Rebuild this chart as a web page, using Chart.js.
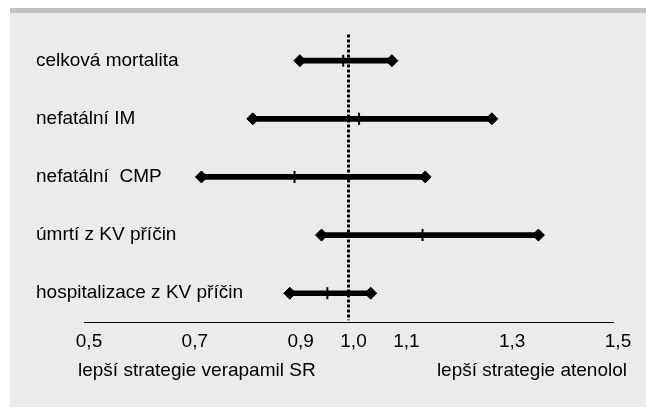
<!DOCTYPE html>
<html><head><meta charset="utf-8">
<script src="https://cdn.jsdelivr.net/npm/chart.js@4/dist/chart.umd.min.js"></script>
<style>
html,body{margin:0;padding:0;background:#fff;}
#panel{position:absolute;left:10px;top:8px;width:636px;height:399px;background:#ebebeb;border-top:5px solid #c2c2c2;box-sizing:border-box;}
#wrap{position:absolute;left:0;top:0;width:646px;height:407px;}
</style></head><body>
<div id="panel"></div>
<div id="wrap"><canvas id="c"></canvas></div>
<script>
const categories = ['celková mortalita', 'nefatální IM', 'nefatální  CMP', 'úmrtí z KV příčin', 'hospitalizace z KV příčin'];
const lowerCI = [0.908, 0.819, 0.722, 0.949, 0.889];
const upperCI = [1.082, 1.271, 1.145, 1.359, 1.042];
const estimates = [0.990, 1.020, 0.898, 1.140, 0.960];
const tickValues = [0.5, 0.7, 0.9, 1.0, 1.1, 1.3, 1.5];
const tickLabels = ['0,5', '0,7', '0,9', '1,0', '1,1', '1,3', '1,5'];
const referenceValue = 1.0;
const leftCaption = 'lepší strategie verapamil SR';
const rightCaption = 'lepší strategie atenolol';

function hasFont(name) {
  const c = document.createElement('canvas').getContext('2d');
  const s = '0,5 1,3 mmwwii';
  c.font = '40px monospace';
  const a = c.measureText(s).width;
  c.font = '40px "' + name + '", monospace';
  return Math.abs(c.measureText(s).width - a) > 0.5;
}
const narrow = hasFont('Liberation Sans Narrow');
const tickFont = narrow ? {family: '"Liberation Sans Narrow", "Liberation Sans", Arial', size: 21}
                        : {family: '"Liberation Sans", Arial', size: 19};
const tickPad = narrow ? 7 : 8;
const baseFamily = '"Liberation Sans", Arial, sans-serif';

const refPlugin = {
  id: 'refline',
  afterDatasetsDraw(chart) {
    const {ctx, chartArea, scales} = chart;
    const x = scales.x.getPixelForValue(referenceValue);
    ctx.save();
    ctx.strokeStyle = '#000';
    ctx.lineWidth = 3;
    ctx.setLineDash([3, 2]);
    ctx.beginPath();
    ctx.moveTo(x, chartArea.top + 3);
    ctx.lineTo(x, chartArea.bottom - 2);
    ctx.stroke();
    ctx.restore();
  },
  afterDraw(chart) {
    const {ctx, chartArea} = chart;
    ctx.save();
    ctx.fillStyle = '#000';
    ctx.font = '19px ' + baseFamily;
    ctx.textBaseline = 'alphabetic';
    ctx.textAlign = 'left';
    ctx.fillText(leftCaption, chartArea.left - 6, 376);
    ctx.textAlign = 'right';
    ctx.fillText(rightCaption, chartArea.right + 14, 376);
    ctx.restore();
  }
};

const endpoints = [];
categories.forEach((c, i) => {
  endpoints.push({x: lowerCI[i], y: c});
  endpoints.push({x: upperCI[i], y: c});
});
const estPoints = categories.map((c, i) => ({x: estimates[i], y: c}));

new Chart(document.getElementById('c'), {
  type: 'bar',
  data: {
    labels: categories,
    datasets: [
      {
        type: 'scatter',
        data: endpoints,
        pointStyle: 'rectRot',
        pointRadius: 6,
        pointBorderWidth: 1,
        pointBackgroundColor: '#000',
        pointBorderColor: '#000'
      },
      {
        type: 'scatter',
        data: estPoints,
        pointStyle: 'line',
        pointRotation: 90,
        pointRadius: 6,
        pointBorderWidth: 2,
        pointBorderColor: '#000',
        pointBackgroundColor: '#000'
      },
      {
        type: 'bar',
        data: categories.map((c, i) => [lowerCI[i], upperCI[i]]),
        backgroundColor: '#000',
        barThickness: 5,
        borderWidth: 0
      }
    ]
  },
  options: {
    indexAxis: 'y',
    responsive: true,
    maintainAspectRatio: false,
    animation: false,
    events: [],
    layout: {padding: {left: 36, right: 33, top: 31.6, bottom: 0}},
    plugins: {legend: {display: false}, tooltip: {enabled: false}, title: {display: false}},
    scales: {
      x: {
        type: 'linear',
        position: 'bottom',
        min: 0.5,
        max: 1.5,
        afterBuildTicks(scale) { scale.ticks = tickValues.map(v => ({value: v})); },
        afterFit(scale) { scale.height = 84.7; },
        grid: {display: false, drawTicks: false},
        border: {display: true, color: '#000', width: 1},
        ticks: {
          autoSkip: false,
          maxRotation: 0,
          color: '#000',
          font: tickFont,
          padding: tickPad,
          labelOffset: 5,
          callback: (v, i) => tickLabels[i]
        }
      },
      y: {
        type: 'category',
        offset: true,
        afterFit(scale) { scale.width = 48; },
        grid: {display: false, drawTicks: false},
        border: {display: false},
        ticks: {
          mirror: true,
          crossAlign: 'near',
          color: '#000',
          font: {family: baseFamily, size: 19},
          padding: -48
        }
      }
    }
  },
  plugins: [refPlugin]
});
</script>
</body></html>
